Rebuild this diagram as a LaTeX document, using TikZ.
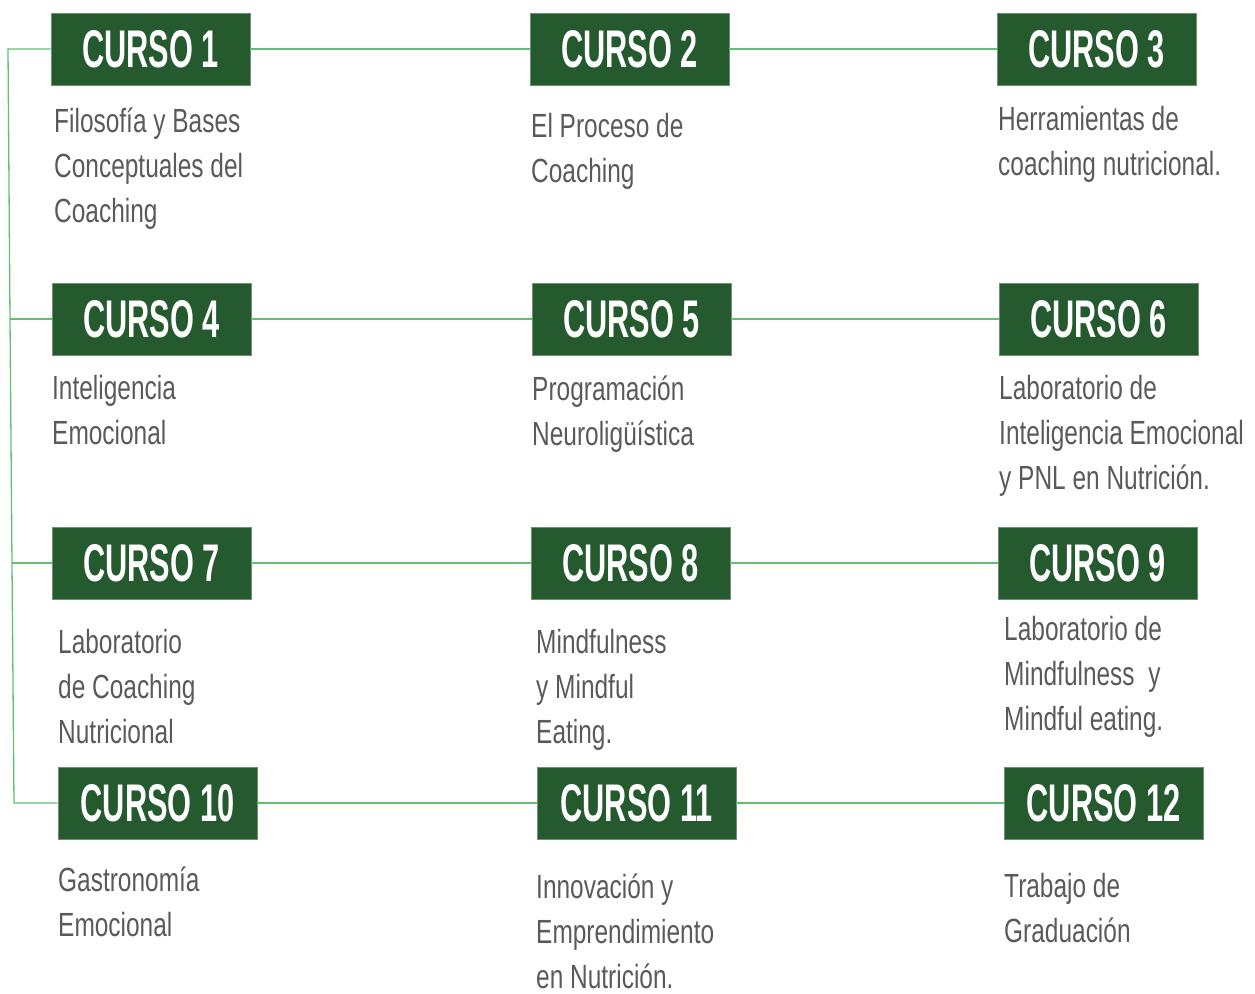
\documentclass[tikz,border=0pt]{standalone}
\usepackage{fontspec}
\usepackage{xcolor}
\usepackage{tikz}
\usetikzlibrary{positioning}

\newfontfamily\cursofont[FakeStretch=0.58]{Liberation Sans}
\newfontfamily\temafont[FakeStretch=0.73]{Liberation Sans}
\definecolor{verdeoscuro}{HTML}{245A2E}
\definecolor{bordeverde}{HTML}{6E8F73}
\definecolor{verdeclaro}{HTML}{62BE74}
\definecolor{grisTexto}{HTML}{5A5A5A}

\tikzset{
  curso/.style={rectangle, fill=verdeoscuro, draw=bordeverde, line width=0.8pt,
    minimum width=199pt, minimum height=72pt, inner sep=0pt, text=white,
    font={\cursofont\bfseries\fontsize{53}{53}\selectfont}},
  tema/.style={anchor=north west, inner sep=0pt, align=left, text=grisTexto,
    font={\temafont\fontsize{33.5}{45}\selectfont}},
  enlace/.style={verdeclaro, line width=1.3pt}
}

\begin{document}
\begin{tikzpicture}[x=1pt,y=-1pt]
\useasboundingbox (0,0) rectangle (1255,993);

% Fila 1
\node[curso] (c1) at (150.5,49) {CURSO 1};
\node[curso] (c2) at (629.5,49) {CURSO 2};
\node[curso] (c3) at (1096.5,49) {CURSO 3};
\node[tema] (t1) at (54,107.5) {Filosofía y Bases\\Conceptuales del\\Coaching};
\node[tema] (t2) at (531,113.5) {El Proceso de\\Coaching};
\node[tema] (t3) at (998,106.5) {Herramientas de\\coaching nutricional.};

% Fila 2
\node[curso] (c4) at (151.5,319) {CURSO 4};
\node[curso] (c5) at (631.5,319) {CURSO 5};
\node[curso] (c6) at (1098.5,319) {CURSO 6};
\node[tema] (t4) at (52,375.5) {Inteligencia\\Emocional};
\node[tema] (t5) at (532,375.5) {Programación\\Neuroligüística};
\node[tema] (t6) at (999,375.5) {Laboratorio de\\Inteligencia Emocional\\y PNL en Nutrición.};

% Fila 3
\node[curso] (c7) at (151.5,563) {CURSO 7};
\node[curso] (c8) at (630.5,563) {CURSO 8};
\node[curso] (c9) at (1097.5,563) {CURSO 9};
\node[tema] (t7) at (58,629.5) {Laboratorio\\de Coaching\\Nutricional};
\node[tema] (t8) at (536,629.5) {Mindfulness\\y Mindful\\Eating.};
\node[tema] (t9) at (1004,616.5) {Laboratorio de\\Mindfulness\ \ y\\Mindful eating.};

% Fila 4
\node[curso] (c10) at (157.5,803) {CURSO 10};
\node[curso] (c11) at (636.5,803) {CURSO 11};
\node[curso] (c12) at (1103.5,803) {CURSO 12};
\node[tema] (t10) at (58,866.5) {Gastronomía\\Emocional};
\node[tema] (t11) at (536,873.5) {Innovación y\\Emprendimiento\\en Nutrición.};
\node[tema] (t12) at (1004,873.5) {Trabajo de\\Graduación};

% Enlaces entre cursos
\draw[enlace] (c1.east) -- (c2.west);
\draw[enlace] (c2.east) -- (c3.west);
\draw[enlace] (c4.east) -- (c5.west);
\draw[enlace] (c5.east) -- (c6.west);
\draw[enlace] (c7.east) -- (c8.west);
\draw[enlace] (c8.east) -- (c9.west);
\draw[enlace] (c10.east) -- (c11.west);
\draw[enlace] (c11.east) -- (c12.west);

% Tronco vertical
\coordinate (v1) at (8,49);
\coordinate (v2) at (10,319);
\coordinate (v3) at (12,563);
\coordinate (v4) at (14,803);
\draw[enlace] (c1.west) -- (v1) -- (v2) -- (v3) -- (v4) -- (c10.west);
\draw[enlace] (v2) -- (c4.west);
\draw[enlace] (v3) -- (c7.west);
\end{tikzpicture}
\end{document}
